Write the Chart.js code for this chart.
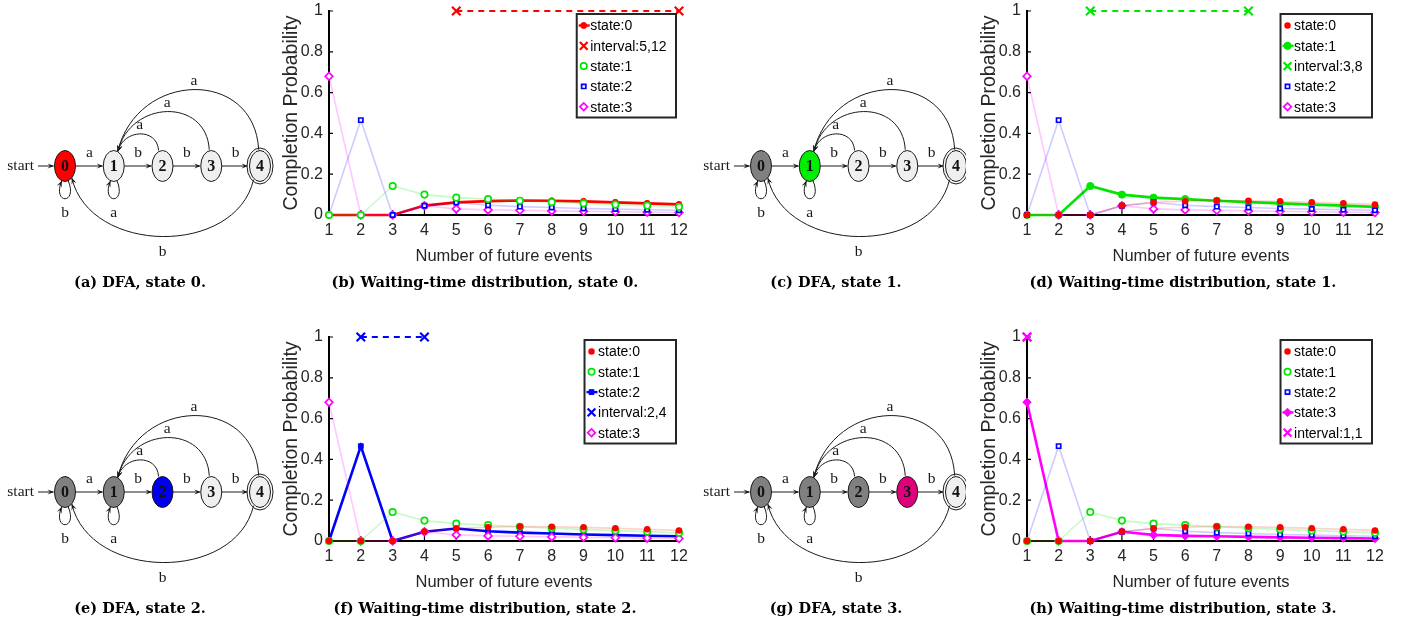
<!DOCTYPE html>
<html>
<head>
<meta charset="utf-8">
<script src="https://cdn.jsdelivr.net/npm/chart.js@4.4.1/dist/chart.umd.min.js"></script>
<style>
  html, body { margin: 0; padding: 0; background: #fff; }
  body { width: 1408px; height: 625px; position: relative; overflow: hidden; }
  canvas { position: absolute; }
  .caption {
    position: absolute; white-space: nowrap; transform: translateX(-50%);
    font-family: "DejaVu Serif", serif; font-weight: bold; font-size: 14.5px; color: #000;
  }
</style>
</head>
<body>
<canvas id="dfa-a" width="275" height="275" style="left:0;top:0"></canvas>
<canvas id="wait-b" width="430" height="270" style="left:270px;top:0"></canvas>
<canvas id="dfa-c" width="270" height="275" style="left:696px;top:0"></canvas>
<canvas id="wait-d" width="430" height="270" style="left:968px;top:0"></canvas>
<canvas id="dfa-e" width="275" height="275" style="left:0;top:326px"></canvas>
<canvas id="wait-f" width="430" height="270" style="left:270px;top:326px"></canvas>
<canvas id="dfa-g" width="270" height="275" style="left:696px;top:326px"></canvas>
<canvas id="wait-h" width="430" height="270" style="left:968px;top:326px"></canvas>

<div class="caption" style="left:140px;top:273px">(a) DFA, state 0.</div>
<div class="caption" style="left:485px;top:273px">(b) Waiting-time distribution, state 0.</div>
<div class="caption" style="left:836px;top:273px">(c) DFA, state 1.</div>
<div class="caption" style="left:1183px;top:273px">(d) Waiting-time distribution, state 1.</div>
<div class="caption" style="left:140px;top:599px">(e) DFA, state 2.</div>
<div class="caption" style="left:485px;top:599px">(f) Waiting-time distribution, state 2.</div>
<div class="caption" style="left:836px;top:599px">(g) DFA, state 3.</div>
<div class="caption" style="left:1183px;top:599px">(h) Waiting-time distribution, state 3.</div>

<script>
// waiting-time data
const futureEvents = [1, 2, 3, 4, 5, 6, 7, 8, 9, 10, 11, 12];
const state0 = [0, 0, 0, 0.046, 0.062, 0.068, 0.071, 0.070, 0.067, 0.062, 0.057, 0.052];
const state1 = [0, 0, 0.142, 0.100, 0.085, 0.078, 0.070, 0.063, 0.057, 0.051, 0.046, 0.040];
const state2 = [0, 0.465, 0, 0.045, 0.061, 0.048, 0.041, 0.037, 0.032, 0.029, 0.026, 0.023];
const state3 = [0.68, 0, 0, 0.045, 0.030, 0.025, 0.023, 0.020, 0.018, 0.016, 0.014, 0.012];
const stateNames = ['state:0', 'state:1', 'state:2', 'state:3'];
const intervals = [[5, 12], [3, 8], [2, 4], [1, 1]];
const yTicks = [0, 0.2, 0.4, 0.6, 0.8, 1];

// DFA
const dfaStates = ['0', '1', '2', '3', '4'];
const dfaAccepting = [4];
const dfaEdges = [
    [0, 1, 'a'], [1, 2, 'b'], [2, 3, 'b'], [3, 4, 'b'],
    [0, 0, 'b'], [1, 1, 'a'],
    [2, 1, 'a'], [3, 1, 'a'], [4, 1, 'a'], [4, 0, 'b']
];

const series = [state0, state1, state2, state3];
const stateColors = ['#ff0000', '#00e600', '#0000ff', '#ff00ff'];
const stateFaded = ['rgba(255,0,0,0.18)', 'rgba(0,230,0,0.22)', 'rgba(0,0,255,0.2)', 'rgba(255,0,255,0.22)'];
const stateMarkers = ['circle', 'circle', 'rect', 'rectRot'];
const nodeHighlight = ['#ff0000', '#00ee00', '#0000ee', '#e0007c'];

const sans = '"Liberation Sans", Arial, sans-serif';
const serif = '"Liberation Serif", "Times New Roman", serif';
const textGrey = '#262626';

Chart.defaults.animation = false;
Chart.defaults.font.family = sans;

const toPoints = vals => futureEvents.map((e, j) => ({ x: e, y: vals[j] }));

function stateDataset(i, k) {
    const on = i === k;
    return {
        label: stateNames[i],
        data: toPoints(series[i]),
        borderColor: on ? stateColors[i] : stateFaded[i],
        borderWidth: on ? 2.6 : 1.6,
        pointStyle: stateMarkers[i],
        pointRadius: on ? [3, 3.6, 3.4, 4.2][i] : [2.4, 3.2, 3, 3.8][i],
        pointBackgroundColor: (on || i === 0) ? stateColors[i] : '#ffffff',
        pointBorderColor: stateColors[i],
        pointBorderWidth: on ? 1 : 1.7,
        clip: false,
        highlight: on
    };
}

function intervalDataset(k) {
    const [a, b] = intervals[k];
    return {
        label: 'interval:' + a + ',' + b,
        data: [{ x: a, y: 1 }, { x: b, y: 1 }],
        borderColor: stateColors[k],
        borderWidth: 2,
        borderDash: [6, 5],
        pointStyle: 'crossRot',
        pointRadius: 6,
        pointBorderWidth: 2.2,
        pointBorderColor: stateColors[k],
        pointBackgroundColor: stateColors[k],
        clip: false
    };
}

// MATLAB style legend box in the upper right corner
const boxLegend = {
    id: 'boxLegend',
    afterDraw(chart, args, opts) {
        const { ctx, chartArea } = chart;
        const items = opts.order.map(name => chart.data.datasets.find(d => d.label === name));
        ctx.save();
        ctx.font = '14px ' + sans;
        const textW = Math.max(...items.map(d => ctx.measureText(d.label).width));
        const rowH = 20.3;
        const w = 15 + textW + 8, h = items.length * rowH + 2;
        const x0 = chartArea.right - 3 - w, y0 = chartArea.top + 3;
        ctx.fillStyle = '#fff';
        ctx.fillRect(x0, y0, w, h);
        ctx.strokeStyle = '#262626';
        ctx.lineWidth = 2;
        ctx.strokeRect(x0, y0, w, h);
        items.forEach((d, n) => {
            const cy = y0 + 11.5 + n * rowH;
            const mx = x0 + 7;
            if (d.highlight) {
                ctx.strokeStyle = d.borderColor;
                ctx.lineWidth = 2.4;
                ctx.beginPath();
                ctx.moveTo(x0 + 2, cy);
                ctx.lineTo(x0 + 13, cy);
                ctx.stroke();
            }
            ctx.fillStyle = d.pointBackgroundColor;
            ctx.strokeStyle = d.pointBorderColor;
            ctx.lineWidth = d.pointBorderWidth;
            Chart.helpers.drawPoint(ctx, {
                pointStyle: d.pointStyle,
                radius: d.pointStyle === 'crossRot' ? 5.5 : d.pointRadius,
                borderWidth: d.pointBorderWidth,
                rotation: 0
            }, mx, cy);
            ctx.fillStyle = '#000';
            ctx.textBaseline = 'middle';
            ctx.fillText(d.label, x0 + 13.5, cy + 1);
        });
        ctx.restore();
    }
};

// small tick marks pointing into the plot
const innerTicks = {
    id: 'innerTicks',
    beforeDatasetsDraw(chart) {
        const { ctx, scales: { x, y } } = chart;
        ctx.save();
        ctx.strokeStyle = '#000';
        ctx.lineWidth = 1.2;
        ctx.beginPath();
        x.ticks.forEach(t => {
            const px = x.getPixelForValue(t.value);
            ctx.moveTo(px, y.bottom);
            ctx.lineTo(px, y.bottom - 5);
        });
        y.ticks.forEach(t => {
            const py = y.getPixelForValue(t.value);
            ctx.moveTo(x.left, py);
            ctx.lineTo(x.left + 4, py);
        });
        ctx.stroke();
        ctx.restore();
    }
};

function makeWaitChart(id, k, padRight) {
    const others = [0, 1, 2, 3].filter(i => i !== k).map(i => stateDataset(i, k));
    const datasets = [intervalDataset(k), ...others, stateDataset(k, k)];
    const order = stateNames.slice();
    order.splice(k + 1, 0, datasets[0].label);

    return new Chart(document.getElementById(id).getContext('2d'), {
        type: 'line',
        data: { datasets },
        options: {
            responsive: false,
            layout: { padding: { top: 11, right: padRight, left: 0, bottom: 0 } },
            plugins: {
                legend: { display: false },
                tooltip: { enabled: false },
                boxLegend: { order }
            },
            elements: { line: { tension: 0 } },
            scales: {
                x: {
                    type: 'linear', min: 1, max: 12,
                    afterBuildTicks: s => { s.ticks = futureEvents.map(v => ({ value: v })); },
                    afterFit: s => { s.height = 55; s.paddingLeft = 0; s.paddingRight = 0; },
                    grid: { display: false, drawTicks: false },
                    border: { display: true, color: '#000', width: 2 },
                    ticks: { color: textGrey, padding: 6, font: { size: 16 }, callback: v => String(v) },
                    title: {
                        display: true, text: 'Number of future events', color: textGrey,
                        font: { size: 16.5 }, padding: { top: 0, bottom: 4 }
                    }
                },
                y: {
                    min: 0, max: 1,
                    afterBuildTicks: s => { s.ticks = yTicks.map(v => ({ value: v })); },
                    afterFit: s => { s.width = 59; s.paddingTop = 0; s.paddingBottom = 0; },
                    grid: { display: false, drawTicks: false },
                    border: { display: true, color: '#000', width: 2 },
                    ticks: { color: textGrey, padding: 6, font: { size: 16 }, callback: v => String(v) },
                    title: {
                        display: true, text: 'Completion Probability', color: textGrey,
                        font: { size: 19.5 }, padding: { top: 10, bottom: 0 }
                    }
                }
            }
        },
        plugins: [innerTicks, boxLegend]
    });
}

// ---- DFA drawing ----
function ellPoint(p, deg, rx, ry) {
    const a = deg * Math.PI / 180;
    return { x: p.x + rx * Math.cos(a), y: p.y - ry * Math.sin(a) };
}

function arrowHead(ctx, tip, from) {
    const ang = Math.atan2(tip.y - from.y, tip.x - from.x);
    const len = 6.5, half = 2.6;
    ctx.beginPath();
    ctx.moveTo(tip.x, tip.y);
    ctx.lineTo(tip.x - len * Math.cos(ang) + half * Math.sin(ang), tip.y - len * Math.sin(ang) - half * Math.cos(ang));
    ctx.lineTo(tip.x - len * Math.cos(ang) * 0.6, tip.y - len * Math.sin(ang) * 0.6);
    ctx.lineTo(tip.x - len * Math.cos(ang) - half * Math.sin(ang), tip.y - len * Math.sin(ang) + half * Math.cos(ang));
    ctx.closePath();
    ctx.fill();
}

function bez(p0, p1, p2, p3, t) {
    const u = 1 - t;
    return {
        x: u * u * u * p0.x + 3 * u * u * t * p1.x + 3 * u * t * t * p2.x + t * t * t * p3.x,
        y: u * u * u * p0.y + 3 * u * u * t * p1.y + 3 * u * t * t * p2.y + t * t * t * p3.y
    };
}

const dfaDraw = {
    id: 'dfaDraw',
    afterDatasetsDraw(chart, args, opts) {
        const { ctx } = chart;
        const pts = chart.getDatasetMeta(0).data.map(e => ({ x: e.x, y: e.y }));
        const rx = 10.5, ry = 15.5;
        const gap = pts[1].x - pts[0].x;
        ctx.save();
        ctx.strokeStyle = '#1a1a1a';
        ctx.fillStyle = '#1a1a1a';
        ctx.lineWidth = 1;
        ctx.font = '15.5px ' + serif;
        ctx.textAlign = 'center';
        ctx.textBaseline = 'middle';

        // start arrow
        const s0 = pts[0];
        ctx.beginPath();
        ctx.moveTo(s0.x - 27, s0.y);
        ctx.lineTo(s0.x - rx - 1, s0.y);
        ctx.stroke();
        arrowHead(ctx, { x: s0.x - rx - 0.5, y: s0.y }, { x: s0.x - 27, y: s0.y });
        ctx.textAlign = 'right';
        ctx.fillText('start', s0.x - 31, s0.y);
        ctx.textAlign = 'center';

        dfaEdges.forEach(([from, to, label]) => {
            const a = pts[from], b = pts[to];
            ctx.beginPath();
            if (from === to) {
                const p0 = ellPoint(a, -72, rx, ry), p3 = ellPoint(a, -108, rx, ry);
                const p1 = { x: p0.x + 10, y: p0.y + 24 }, p2 = { x: p3.x - 10, y: p3.y + 24 };
                ctx.moveTo(p0.x, p0.y);
                ctx.bezierCurveTo(p1.x, p1.y, p2.x, p2.y, p3.x, p3.y);
                ctx.stroke();
                arrowHead(ctx, p3, p2);
                ctx.fillText(label, a.x, a.y + 47);
            } else if (to === from + 1) {
                const endR = dfaAccepting.includes(to) ? rx + 1.5 : rx;
                ctx.moveTo(a.x + rx, a.y);
                ctx.lineTo(b.x - endR - 1, b.y);
                ctx.stroke();
                arrowHead(ctx, { x: b.x - endR, y: b.y }, a);
                ctx.fillText(label, (a.x + b.x) / 2, a.y - 13);
            } else {
                const below = to === 0;
                const d = from - to;
                const H = below ? -gap * 1.58 : gap * (0.6 * d - 0.13);
                const p0 = below ? ellPoint(a, 236, rx + 1, ry + 1) : ellPoint(a, 90 + 20 / d, rx + 1, ry + 1);
                const p3 = below ? ellPoint(b, 310, rx, ry) : ellPoint(b, 68, rx, ry);
                const dx = Math.abs(p0.x - p3.x);
                const p1 = { x: p0.x - (below ? 0.1 : 0.03) * dx, y: p0.y - H };
                const p2 = { x: p3.x + (below ? 0.1 : 0.14) * dx, y: p3.y - H };
                ctx.moveTo(p0.x, p0.y);
                ctx.bezierCurveTo(p1.x, p1.y, p2.x, p2.y, p3.x, p3.y);
                ctx.stroke();
                arrowHead(ctx, p3, bez(p0, p1, p2, p3, 0.93));
                const m = bez(p0, p1, p2, p3, 0.5);
                ctx.fillText(label, m.x, below ? m.y + 15 : m.y - 9);
            }
        });

        // nodes
        pts.forEach((p, i) => {
            ctx.fillStyle = opts.fills[i];
            ctx.beginPath();
            ctx.ellipse(p.x, p.y, rx, ry, 0, 0, Math.PI * 2);
            ctx.fill();
            ctx.stroke();
            if (dfaAccepting.includes(i)) {
                ctx.beginPath();
                ctx.ellipse(p.x, p.y, rx + 2.5, ry + 2.5, 0, 0, Math.PI * 2);
                ctx.stroke();
            }
            ctx.fillStyle = '#111';
            ctx.font = 'bold 16px ' + serif;
            ctx.fillText(dfaStates[i], p.x, p.y + 1);
        });
        ctx.restore();
    }
};

function makeDfa(id, k) {
    const canvas = document.getElementById(id);
    const gap = 48.75, nodeLeft = 65, nodeTop = 166;
    const fills = dfaStates.map((_, i) => i < k ? '#808080' : (i === k ? nodeHighlight[k] : '#efefef'));
    return new Chart(canvas.getContext('2d'), {
        type: 'scatter',
        data: {
            datasets: [{
                data: dfaStates.map((_, i) => ({ x: i, y: 0 })),
                pointRadius: 0
            }]
        },
        options: {
            responsive: false,
            layout: { padding: 0 },
            plugins: { legend: { display: false }, tooltip: { enabled: false }, dfaDraw: { fills } },
            scales: {
                x: { display: false, min: -nodeLeft / gap, max: (canvas.width - nodeLeft) / gap },
                y: { display: false, min: -(canvas.height - nodeTop) / gap, max: nodeTop / gap }
            }
        },
        plugins: [dfaDraw]
    });
}

document.addEventListener('DOMContentLoaded', () => {
    makeDfa('dfa-a', 0);
    makeWaitChart('wait-b', 0, 21);
    makeDfa('dfa-c', 1);
    makeWaitChart('wait-d', 1, 23);
    makeDfa('dfa-e', 2);
    makeWaitChart('wait-f', 2, 21);
    makeDfa('dfa-g', 3);
    makeWaitChart('wait-h', 3, 23);
});
</script>
</body>
</html>
